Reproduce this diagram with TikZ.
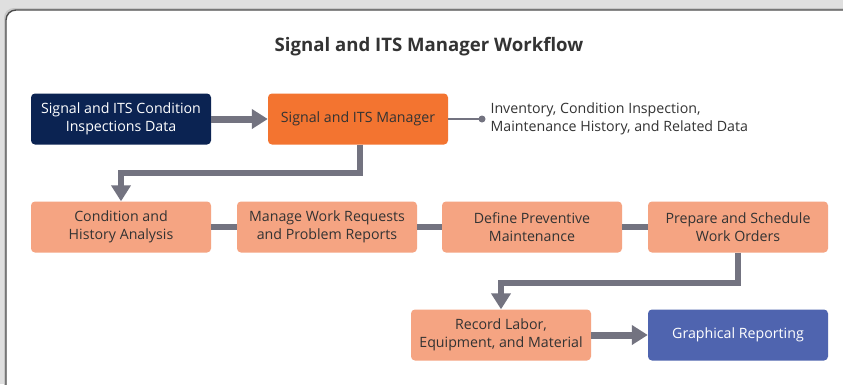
\documentclass[tikz,border=0pt]{standalone}
\usepackage{fontspec}
\setmainfont{Open Sans}
\usepackage{tikz}
\usetikzlibrary{arrows.meta, positioning}
\definecolor{navybox}{HTML}{0B2352}
\definecolor{orangebox}{HTML}{F37430}
\definecolor{salmonbox}{HTML}{F5A482}
\definecolor{bluebox}{HTML}{4F64AF}
\definecolor{linkgray}{HTML}{737380}
\definecolor{textdark}{HTML}{333333}

\begin{document}
\begin{tikzpicture}[x=1pt,y=-1pt,
    every node/.style={font=\fontsize{14.2}{18}\selectfont, align=center, text=textdark},
    stepbox/.style={rectangle, rounded corners=4pt, minimum width=180pt, minimum height=51pt, inner sep=2pt},
    flow/.style={draw=linkgray, line width=7pt, -{Triangle[length=16pt,width=19pt]}},
    link/.style={draw=linkgray, line width=6pt}]
    \useasboundingbox (0,0) rectangle (843,384);
    % frame and shadow
    \fill[gray!25] (0,0) rectangle (843,384);
    \fill[gray!45, rounded corners=10pt] (4,8) rectangle (870,410);
    \filldraw[fill=white, draw=black!70, line width=1.4pt, rounded corners=10pt] (6,10) rectangle (870,410);
    % title
    \node (title) [font=\fontsize{18.6}{22}\selectfont\bfseries] at (429,47) {Signal and ITS Manager Workflow};
    % first row
    \node (cond) [stepbox, fill=navybox, text=white] at (121,119) {Signal and ITS Condition\\Inspections Data};
    \node (mgr) [stepbox, fill=orangebox] at (358,119) {Signal and ITS Manager};
    \coordinate (dot) at (482,119);
    \node (data) [anchor=west, align=left] at (487,119) {Inventory, Condition Inspection,\\Maintenance History, and Related Data};
    % second row
    \node (hist) [stepbox, fill=salmonbox] at (121,227) {Condition and\\History Analysis};
    \node (req) [stepbox, fill=salmonbox] at (327,227) {Manage Work Requests\\and Problem Reports};
    \node (prev) [stepbox, fill=salmonbox] at (532,227) {Define Preventive\\Maintenance};
    \node (wo) [stepbox, fill=salmonbox] at (738,227) {Prepare and Schedule\\Work Orders};
    % third row
    \node (rec) [stepbox, fill=salmonbox] at (501,335) {Record Labor,\\Equipment, and Material};
    \node (rep) [stepbox, fill=bluebox, text=white] at (738,335) {Graphical Reporting};
    % connectors
    \draw[flow] (cond) -- (mgr);
    \draw[draw=linkgray, line width=2.5pt] (mgr) -- (dot);
    \fill[linkgray] (dot) circle (3.5pt);
    \draw[flow, line width=6pt] ([xshift=2pt]mgr.south) |- (121,173) -- (hist);
    \draw[link] (hist) -- (req);
    \draw[link] (req) -- (prev);
    \draw[link] (prev) -- (wo);
    \draw[flow, line width=6pt] (wo.south) |- (501,283) -- (rec);
    \draw[flow] (rec) -- (rep);
\end{tikzpicture}
\end{document}
